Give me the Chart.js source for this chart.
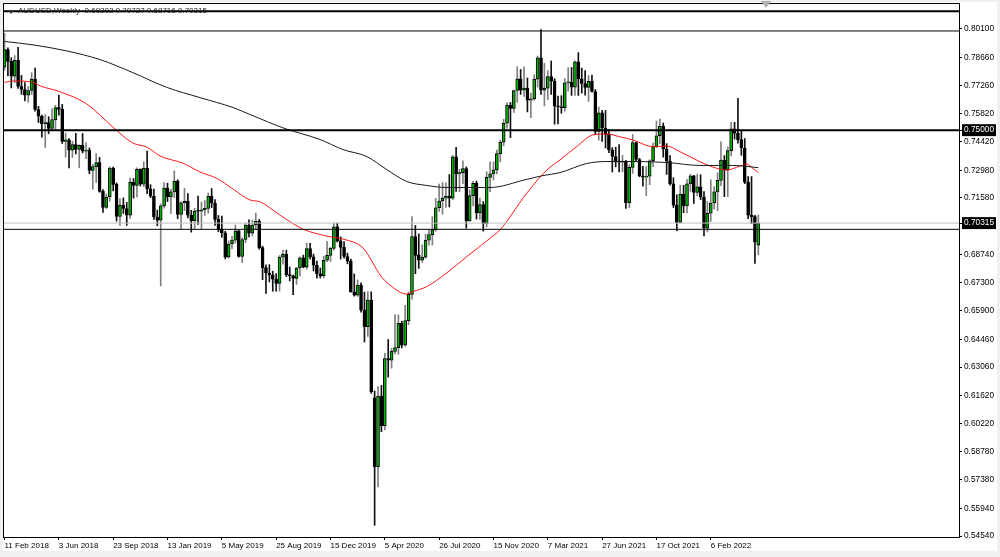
<!DOCTYPE html>
<html><head><meta charset="utf-8">
<script src="https://cdn.jsdelivr.net/npm/chart.js@4.4.1/dist/chart.umd.min.js"></script>
<style>
html,body{margin:0;padding:0;background:#f0f0f0;width:1000px;height:557px;overflow:hidden}
#wrap{position:absolute;left:3px;top:2px;width:994px;height:549px;background:#fff}
#c{position:absolute;left:0;top:0}
#hdr{position:absolute;left:15px;top:4px;font:8px "Liberation Sans",Arial,sans-serif;color:#222;white-space:pre;line-height:9px}
#ico{position:absolute;left:5px;top:8px;width:0;height:0;border-left:3px solid transparent;border-right:3px solid transparent;border-top:4px solid #333}
#shift{position:absolute;left:761px;top:1px;width:0;height:0;border-left:5px solid transparent;border-right:5px solid transparent;border-top:7px solid #b0b0b0}
</style></head><body>
<div id="wrap"><canvas id="c" width="994" height="549"></canvas>
<div id="ico"></div>
<div id="hdr">AUDUSD,Weekly  0.69202 0.70727 0.68716 0.70315</div></div>
<div id="shift"></div>
<script>
// ---- data (weekly AUDUSD, first bar = week of 11 Feb 2018) ----
const opens = [0.7817,0.7906,0.7847,0.7772,0.7852,0.7720,0.7705,0.7676,0.7700,0.7757,0.7604,0.7570,0.7533,0.7538,0.7509,0.7553,0.7614,0.7605,0.7443,0.7451,0.7399,0.7427,0.7403,0.7424,0.7394,0.7399,0.7297,0.7316,0.7337,0.7191,0.7110,0.7163,0.7309,0.7227,0.7065,0.7122,0.7105,0.7071,0.7237,0.7221,0.7303,0.7228,0.7307,0.7204,0.7167,0.7062,0.7046,0.7118,0.7208,0.7164,0.7189,0.7243,0.7075,0.7134,0.7142,0.7071,0.7042,0.7092,0.7091,0.7098,0.7106,0.7167,0.7133,0.7050,0.7001,0.6983,0.6860,0.6926,0.6946,0.6992,0.6864,0.6949,0.7021,0.6981,0.7022,0.7040,0.6908,0.6807,0.6780,0.6770,0.6749,0.6727,0.6860,0.6874,0.6772,0.6766,0.6752,0.6805,0.6857,0.6809,0.6903,0.6861,0.6819,0.6776,0.6766,0.6844,0.6869,0.6904,0.7013,0.6942,0.6909,0.6863,0.6840,0.6685,0.6668,0.6719,0.6593,0.6509,0.6644,0.6150,0.5803,0.6159,0.6010,0.6349,0.6340,0.6385,0.6404,0.6526,0.6416,0.6540,0.6672,0.6963,0.6869,0.6845,0.6860,0.6945,0.6973,0.6997,0.7109,0.7143,0.7157,0.7166,0.7157,0.7365,0.7279,0.7286,0.7306,0.7042,0.7170,0.7232,0.7083,0.7125,0.7030,0.7262,0.7280,0.7300,0.7382,0.7439,0.7535,0.7625,0.7610,0.7700,0.7759,0.7701,0.7712,0.7651,0.7658,0.7757,0.7865,0.7702,0.7712,0.7770,0.7747,0.7621,0.7618,0.7613,0.7738,0.7741,0.7717,0.7844,0.7759,0.7735,0.7715,0.7746,0.7695,0.7494,0.7587,0.7511,0.7479,0.7400,0.7367,0.7340,0.7339,0.7340,0.7135,0.7312,0.7437,0.7352,0.7269,0.7263,0.7268,0.7346,0.7417,0.7472,0.7519,0.7404,0.7344,0.7230,0.7122,0.7035,0.7178,0.7118,0.7230,0.7270,0.7186,0.7214,0.7163,0.7006,0.7081,0.7133,0.7189,0.7247,0.7349,0.7300,0.7397,0.7507,0.7485,0.7452,0.7410,0.7238,0.7072,0.7064,0.69202];
const highs = [0.7988,0.7915,0.7865,0.7876,0.7917,0.7776,0.7740,0.7720,0.7790,0.7813,0.7620,0.7576,0.7578,0.7568,0.7607,0.7625,0.7677,0.7630,0.7485,0.7458,0.7444,0.7484,0.7426,0.7483,0.7437,0.7410,0.7328,0.7382,0.7363,0.7200,0.7179,0.7315,0.7314,0.7234,0.7155,0.7158,0.7136,0.7259,0.7256,0.7310,0.7305,0.7340,0.7394,0.7225,0.7203,0.7097,0.7128,0.7236,0.7233,0.7202,0.7295,0.7250,0.7140,0.7207,0.7180,0.7096,0.7106,0.7168,0.7138,0.7145,0.7183,0.7206,0.7150,0.7070,0.7067,0.6990,0.6942,0.6965,0.7022,0.6995,0.6958,0.7031,0.7048,0.7047,0.7082,0.7050,0.6915,0.6821,0.6822,0.6789,0.6777,0.6868,0.6896,0.6895,0.6810,0.6770,0.6808,0.6862,0.6870,0.6930,0.6929,0.6875,0.6840,0.6805,0.6864,0.6939,0.6910,0.7032,0.7032,0.6962,0.6938,0.6880,0.6850,0.6775,0.6745,0.6730,0.6684,0.6686,0.6685,0.6185,0.6207,0.6213,0.6375,0.6445,0.6400,0.6570,0.6569,0.6537,0.6617,0.6684,0.7064,0.7020,0.6977,0.6922,0.6976,0.6998,0.7064,0.7156,0.7228,0.7236,0.7235,0.7276,0.7373,0.7413,0.7304,0.7345,0.7315,0.7200,0.7242,0.7243,0.7158,0.7140,0.7290,0.7340,0.7340,0.7400,0.7450,0.7555,0.7639,0.7640,0.7702,0.7820,0.7806,0.7819,0.7763,0.7686,0.7779,0.7874,0.8007,0.7838,0.7800,0.7849,0.7760,0.7672,0.7674,0.7760,0.7815,0.7816,0.7849,0.7891,0.7813,0.7800,0.7775,0.7778,0.7705,0.7617,0.7600,0.7599,0.7503,0.7412,0.7414,0.7427,0.7373,0.7348,0.7325,0.7478,0.7440,0.7358,0.7318,0.7317,0.7351,0.7435,0.7546,0.7556,0.7536,0.7432,0.7372,0.7260,0.7174,0.7223,0.7222,0.7251,0.7277,0.7272,0.7277,0.7275,0.7190,0.7140,0.7250,0.7215,0.7285,0.7441,0.7372,0.7415,0.7540,0.7540,0.7661,0.7500,0.7458,0.7266,0.7266,0.7070,0.70727];
const lows = [0.7803,0.7774,0.7713,0.7740,0.7710,0.7680,0.7648,0.7641,0.7680,0.7596,0.7538,0.7465,0.7413,0.7482,0.7498,0.7499,0.7575,0.7433,0.7364,0.7310,0.7362,0.7380,0.7310,0.7385,0.7356,0.7280,0.7202,0.7236,0.7187,0.7085,0.7105,0.7142,0.7194,0.7041,0.7020,0.7080,0.7020,0.7055,0.7157,0.7164,0.7218,0.7215,0.7180,0.7160,0.7050,0.7018,0.6715,0.7107,0.7140,0.7080,0.7160,0.7054,0.7002,0.7094,0.7058,0.6986,0.7003,0.7025,0.7003,0.7070,0.7081,0.7110,0.7020,0.6988,0.6960,0.6851,0.6855,0.6902,0.6930,0.6860,0.6832,0.6933,0.6962,0.6966,0.7000,0.6900,0.6746,0.6677,0.6735,0.6688,0.6688,0.6688,0.6824,0.6762,0.6740,0.6671,0.6723,0.6765,0.6806,0.6800,0.6851,0.6790,0.6754,0.6755,0.6755,0.6837,0.6838,0.6895,0.6936,0.6850,0.6855,0.6826,0.6683,0.6663,0.6662,0.6583,0.6432,0.6460,0.6173,0.5508,0.5702,0.5980,0.5989,0.6255,0.6300,0.6372,0.6370,0.6402,0.6410,0.6520,0.6648,0.6776,0.6803,0.6833,0.6853,0.6920,0.6921,0.6990,0.7090,0.7076,0.7110,0.7113,0.7150,0.7191,0.7189,0.7230,0.7006,0.7040,0.7118,0.7052,0.7050,0.6991,0.7012,0.7190,0.7250,0.7280,0.7340,0.7420,0.7510,0.7462,0.7590,0.7640,0.7680,0.7670,0.7592,0.7563,0.7650,0.7717,0.7680,0.7622,0.7654,0.7680,0.7530,0.7532,0.7585,0.7595,0.7697,0.7675,0.7675,0.7675,0.7687,0.7676,0.7645,0.7691,0.7477,0.7450,0.7443,0.7410,0.7386,0.7289,0.7315,0.7289,0.7290,0.7106,0.7110,0.7282,0.7344,0.7265,0.7218,0.7170,0.7225,0.7316,0.7412,0.7432,0.7364,0.7277,0.7223,0.7110,0.6993,0.7032,0.7084,0.7083,0.7191,0.7130,0.7170,0.7150,0.6967,0.6987,0.7040,0.7102,0.7094,0.7220,0.7165,0.7165,0.7370,0.7455,0.7435,0.7373,0.7230,0.7054,0.7029,0.6828,0.68716];
const closes = [0.7906,0.7847,0.7772,0.7852,0.7720,0.7705,0.7676,0.7700,0.7757,0.7604,0.7570,0.7533,0.7538,0.7509,0.7553,0.7614,0.7605,0.7443,0.7451,0.7399,0.7427,0.7403,0.7424,0.7394,0.7399,0.7297,0.7316,0.7337,0.7191,0.7110,0.7163,0.7309,0.7227,0.7065,0.7122,0.7105,0.7071,0.7237,0.7221,0.7303,0.7228,0.7307,0.7204,0.7167,0.7062,0.7046,0.7118,0.7208,0.7164,0.7189,0.7243,0.7075,0.7134,0.7142,0.7071,0.7042,0.7092,0.7091,0.7098,0.7106,0.7167,0.7133,0.7050,0.7001,0.6983,0.6860,0.6926,0.6946,0.6992,0.6864,0.6949,0.7021,0.6981,0.7022,0.7040,0.6908,0.6807,0.6780,0.6770,0.6749,0.6727,0.6860,0.6874,0.6772,0.6766,0.6752,0.6805,0.6857,0.6809,0.6903,0.6861,0.6819,0.6776,0.6766,0.6844,0.6869,0.6904,0.7013,0.6942,0.6909,0.6863,0.6840,0.6685,0.6668,0.6719,0.6593,0.6509,0.6644,0.6182,0.5803,0.6159,0.6010,0.6349,0.6340,0.6385,0.6404,0.6526,0.6416,0.6540,0.6672,0.6963,0.6869,0.6845,0.6860,0.6945,0.6973,0.6997,0.7109,0.7143,0.7157,0.7166,0.7157,0.7365,0.7279,0.7286,0.7306,0.7042,0.7170,0.7232,0.7083,0.7125,0.7030,0.7262,0.7280,0.7300,0.7382,0.7439,0.7535,0.7625,0.7610,0.7700,0.7759,0.7701,0.7712,0.7651,0.7658,0.7757,0.7865,0.7702,0.7712,0.7770,0.7747,0.7621,0.7618,0.7613,0.7738,0.7741,0.7717,0.7844,0.7759,0.7735,0.7715,0.7746,0.7695,0.7494,0.7587,0.7511,0.7479,0.7400,0.7367,0.7340,0.7339,0.7340,0.7135,0.7312,0.7437,0.7352,0.7269,0.7263,0.7268,0.7346,0.7417,0.7472,0.7519,0.7404,0.7344,0.7230,0.7122,0.7035,0.7178,0.7118,0.7230,0.7270,0.7186,0.7214,0.7163,0.7006,0.7081,0.7133,0.7189,0.7247,0.7349,0.7300,0.7397,0.7507,0.7485,0.7452,0.7410,0.7238,0.7072,0.7064,0.6935,0.70315];

// moving averages (bar index, price)
const maRedX = [0,2.6,8.4,10.5,16.3,24.2,31.9,37.8,41.9,45.8,52.6,57.6,62.5,67.3,72.3,75.2,81.1,87.9,94.9,100.8,105.6,108.5,110.6,113.5,118.4,120.3,124.3,130.2,136.1,143,145.9,153.8,159.7,163.6,168.5,173.3,177.3,181.2,185.1,191,195,199,204.8,209.7,212.7,216.6,218.6,220.4,222];
const maRedY = [0.7741,0.7748,0.7741,0.7723,0.7694,0.7632,0.7516,0.7435,0.7415,0.7370,0.7333,0.7289,0.7257,0.7203,0.7148,0.7139,0.7072,0.7001,0.6966,0.6946,0.6906,0.6830,0.6770,0.6719,0.6674,0.6686,0.6711,0.6780,0.6862,0.6955,0.6997,0.7182,0.7299,0.7350,0.7417,0.7476,0.7481,0.7467,0.7450,0.7417,0.7420,0.7391,0.7341,0.7308,0.7299,0.7319,0.7329,0.7308,0.7286];
const maBlackX = [0,8.4,18.4,28.1,37.8,47.9,57.6,67.3,72.3,82.6,92.9,99.7,106.7,112.6,118.5,124.4,130.3,143,153.6,158.6,163.6,171.5,177.4,185.1,195.1,204.8,214.5,222];
const maBlackY = [0.7947,0.7930,0.7899,0.7856,0.7790,0.7715,0.7664,0.7614,0.7579,0.7508,0.7453,0.7402,0.7367,0.7301,0.7241,0.7221,0.7211,0.7211,0.7251,0.7271,0.7286,0.7332,0.7342,0.7342,0.7337,0.7322,0.7322,0.7311];

// horizontal levels and current price
const levels = [0.81, 0.80, 0.75, 0.70];
const bidPrice = 0.70315;

// axis labels
const xTickIdx = [0,16,32,48,64,80,96,112,128,144,160,176,192,208];
const xTickLabels = ['11 Feb 2018','3 Jun 2018','23 Sep 2018','13 Jan 2019','5 May 2019','25 Aug 2019','15 Dec 2019','5 Apr 2020','26 Jul 2020','15 Nov 2020','7 Mar 2021','27 Jun 2021','17 Oct 2021','6 Feb 2022'];
const yTickVals = [0.80100,0.78660,0.77260,0.75820,0.75000,0.74420,0.72980,0.71580,0.70315,0.68740,0.67300,0.65900,0.64460,0.63060,0.61620,0.60220,0.58780,0.57380,0.55940,0.54540];
const markedTicks = [0.75, 0.70315];

// ---- view ----
const X_MIN = -0.15, X_MAX = 281.1, Y_MIN = 0.54490, Y_MAX = 0.81360;
const FONT = '"Liberation Sans", Arial, sans-serif';
const levelWidths = [2, 1, 2, 1];

const idx = closes.map((_, i) => i);
const bodyData = idx.map(i => ({x: i, y: [opens[i], closes[i]]}));
const wickData = idx.map(i => ({x: i, y: [lows[i], highs[i]], up: closes[i] >= opens[i]}));

const lineDs = (pts, color, w, order) => ({
  type: 'line', data: pts, borderColor: color, borderWidth: w, pointRadius: 0,
  fill: false, order: order, cubicInterpolationMode: 'monotone'
});

const datasets = [];
levels.forEach((lv, k) => datasets.push(lineDs([{x: X_MIN, y: lv}, {x: X_MAX, y: lv}], '#000', levelWidths[k], 0)));
datasets.push(lineDs([{x: X_MIN, y: bidPrice}, {x: X_MAX, y: bidPrice}], '#c0c0c0', 1, 0));
datasets.push(lineDs(maBlackX.map((x, k) => ({x, y: maBlackY[k]})), '#1a1a1a', 1, 0));
datasets.push(lineDs(maRedX.map((x, k) => ({x, y: maRedY[k]})), 'rgba(255,0,0,0.9)', 1, 0));
datasets.push({
  type: 'bar', data: bodyData, order: 1, grouped: false, barThickness: 3, minBarLength: 1,
  backgroundColor: c => (c.raw && c.raw.y[1] >= c.raw.y[0]) ? '#00b400' : '#000',
  borderColor: '#000', borderWidth: 1, borderSkipped: false
});
datasets.push({
  type: 'bar', data: wickData, order: 2, grouped: false, barThickness: 1,
  backgroundColor: c => (c.raw && c.raw.up) ? '#808080' : '#111', borderWidth: 0
});

const frame = {
  id: 'frame',
  afterDraw(chart) {
    const {ctx, chartArea: a} = chart;
    ctx.save();
    ctx.strokeStyle = '#000'; ctx.lineWidth = 1;
    ctx.strokeRect(Math.round(a.left) - 0.5, Math.round(a.top) - 0.5, Math.round(a.right - a.left) + 1, Math.round(a.bottom - a.top) + 1);
    ctx.restore();
  }
};

const noPad = s => { s.paddingTop = 0; s.paddingBottom = 0; s.paddingLeft = 0; s.paddingRight = 0; };

new Chart(document.getElementById('c'), {
  type: 'bar',
  data: {datasets},
  options: {
    responsive: false, animation: false, events: [],
    layout: {padding: {left: 1, top: 2, right: 0, bottom: 0}},
    plugins: {legend: {display: false}, tooltip: {enabled: false}, title: {display: false}},
    scales: {
      x: {
        type: 'linear', min: X_MIN, max: X_MAX, offset: false,
        afterBuildTicks: s => { s.ticks = xTickIdx.map(v => ({value: v})); },
        afterFit: s => { s.height = 14; noPad(s); },
        ticks: {autoSkip: false, maxRotation: 0, align: 'start', padding: 1, color: '#000',
          font: {family: FONT, size: 8},
          callback: v => xTickLabels[xTickIdx.indexOf(v)]},
        grid: {drawOnChartArea: false, drawTicks: true, tickLength: 3, color: '#000', offset: false},
        border: {display: false}
      },
      y: {
        type: 'linear', position: 'right', min: Y_MIN, max: Y_MAX,
        afterBuildTicks: s => { s.ticks = yTickVals.map(v => ({value: v})); },
        afterFit: s => { s.width = 38; noPad(s); },
        ticks: {autoSkip: false, padding: 2,
          font: {family: FONT, size: 8.3},
          color: c => markedTicks.includes(c.tick && c.tick.value) ? '#fff' : '#000',
          showLabelBackdrop: c => markedTicks.includes(c.tick && c.tick.value),
          backdropColor: '#000', backdropPadding: {top: 1, bottom: 1, left: 2, right: 2},
          callback: v => v.toFixed(5)},
        grid: {drawOnChartArea: false, drawTicks: true, tickLength: 3, color: '#000'},
        border: {display: false}
      }
    }
  },
  plugins: [frame]
});
</script>
</body></html>
